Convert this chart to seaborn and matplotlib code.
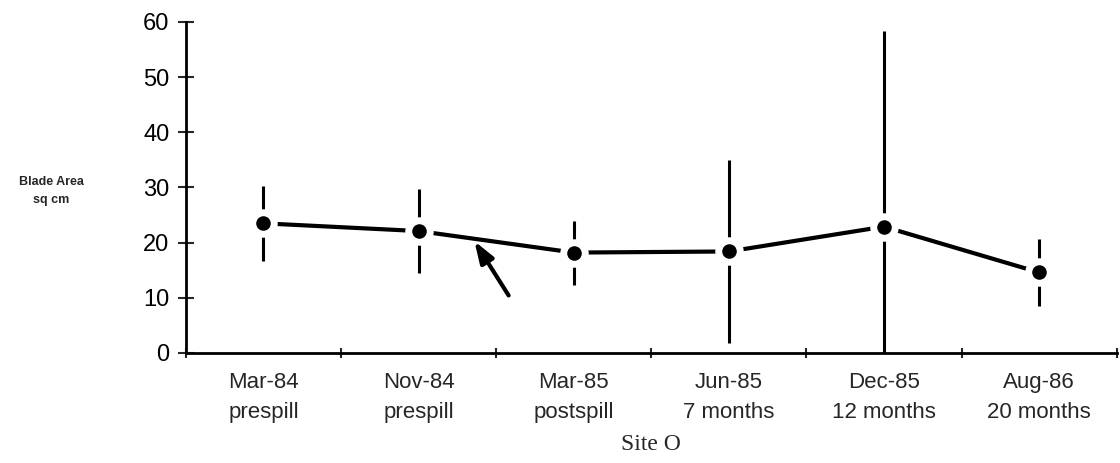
import numpy as np
import pandas as pd
import matplotlib.pyplot as plt
import seaborn as sns

dates = ['Mar-84', 'Nov-84', 'Mar-85', 'Jun-85', 'Dec-85', 'Aug-86']
stages = ['prespill', 'prespill', 'postspill', '7 months', '12 months', '20 months']
blade_area = [23.5, 22.1, 18.2, 18.4, 22.9, 14.6]
err = [6.8, 7.6, 5.8, 16.5, 35.5, 6.0]

df = pd.DataFrame({'pos': np.arange(len(dates)), 'area': blade_area, 'err': err})

sns.set_style('white')
plt.rcParams['font.family'] = ['Liberation Sans Narrow', 'Liberation Sans', 'DejaVu Sans']

fig = plt.figure(figsize=(11.2, 4.63), dpi=100)
ax = fig.add_axes([0.166, 0.2376, 0.831, 0.715])

# error bars, then line, then dots with a white halo (gives the gaps)
ax.errorbar(df['pos'], df['area'], yerr=df['err'], fmt='none', ecolor='black',
            elinewidth=2.2, capsize=0, zorder=2)
sns.lineplot(data=df, x='pos', y='area', color='black', lw=3, ax=ax, zorder=3)
sns.scatterplot(data=df, x='pos', y='area', color='white', s=420, linewidth=0, ax=ax, zorder=4)
sns.scatterplot(data=df, x='pos', y='area', color='black', s=110, linewidth=0, ax=ax, zorder=5)

ax.annotate('', xy=(1.35, 20.7), xytext=(1.59, 10.0),
            arrowprops=dict(arrowstyle='-|>,head_length=1.3,head_width=0.45',
                            color='black', lw=3), zorder=6)

ax.set_xlim(-0.5, len(dates) - 0.5)
ax.set_ylim(0, 60)
ax.set_yticks(range(0, 61, 10))
ax.set_xticks(np.arange(-0.5, len(dates), 1.0))
ax.set_xticklabels([])
ax.set_xticks(df['pos'], [f'{d}\n{s}' for d, s in zip(dates, stages)], minor=True)
ax.tick_params(axis='x', which='minor', bottom=True, length=0, labelsize=16, pad=14)
ax.tick_params(axis='x', which='major', bottom=True, direction='inout', length=7, width=1.5)
ax.tick_params(axis='y', left=True, direction='inout', length=12, width=1.5,
               labelsize=17, pad=6, labelcolor='black')
for lab in ax.get_xticklabels(minor=True):
    lab.set_linespacing(1.55)

for s in ['top', 'right']:
    ax.spines[s].set_visible(False)
for s in ['left', 'bottom']:
    ax.spines[s].set_color('black')
    ax.spines[s].set_linewidth(2)

ax.set_xlabel('Site O', family=['Liberation Serif', 'DejaVu Serif'], fontsize=17, labelpad=8)
ax.set_ylabel('')
fig.text(0.046, 1 - 191 / 463, 'Blade Area\nsq cm', ha='center', va='center',
         fontsize=9, fontweight='bold', family=['Liberation Sans', 'DejaVu Sans'],
         linespacing=1.6)

fig.savefig('out.png', dpi=100)
plt.close()
